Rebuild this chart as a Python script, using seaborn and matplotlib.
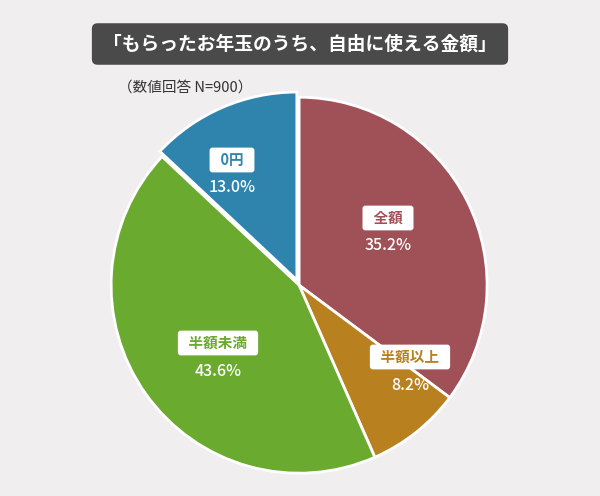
import matplotlib
matplotlib.use("Agg")
import matplotlib.pyplot as plt
import seaborn as sns

categories = ["全額", "半額以上", "半額未満", "0円"]
values = [35.2, 8.2, 43.6, 13.0]
colors = ["#a05157", "#b8801f", "#6aaa2f", "#2e84ad"]
label_px = [(388, 218), (410, 357), (218, 343), (232, 160)]

sns.set_theme(style="white", font="Noto Sans CJK JP")
bg = "#f0eeef"
fig = plt.figure(figsize=(6, 4.96), dpi=100, facecolor=bg)
ax = fig.add_axes([0.185, 0.046, 0.627, 0.758])
ax.set_facecolor(bg)
explode = [0, 0, 0, 0.03]
ax.pie(values, colors=colors, startangle=90, counterclock=False, explode=explode,
       wedgeprops=dict(edgecolor="white", linewidth=2))
ax.set_xlim(-1, 1)
ax.set_ylim(-1, 1)
ax.set_aspect("equal")
ax.axis("off")

def fx(x): return x / 600
def fy(y): return 1 - y / 496

fig.text(0.5, fy(44), "「もらったお年玉のうち、自由に使える金額」", ha="center", va="center",
         color="white", fontsize=13.5, fontweight="bold",
         bbox=dict(boxstyle="round,pad=0.6,rounding_size=0.3", fc="#4a4a4a", ec="none"))
fig.text(fx(118), fy(88), "（数値回答 N=900）", ha="left", va="center", color="#333333", fontsize=10.5)

for cat, v, c, (x, y) in zip(categories, values, colors, label_px):
    fig.text(fx(x), fy(y), f"  {cat}  ", ha="center", va="center", color=c, fontsize=10.5, fontweight="bold",
             bbox=dict(boxstyle="round,pad=0.3,rounding_size=0.2", fc="white", ec="none"))
    fig.text(fx(x), fy(y + 28), f"{v:.1f}%", ha="center", va="center", color="white",
             fontsize=11.5, fontweight="medium")

fig.savefig("out.png", dpi=100, facecolor=bg)
